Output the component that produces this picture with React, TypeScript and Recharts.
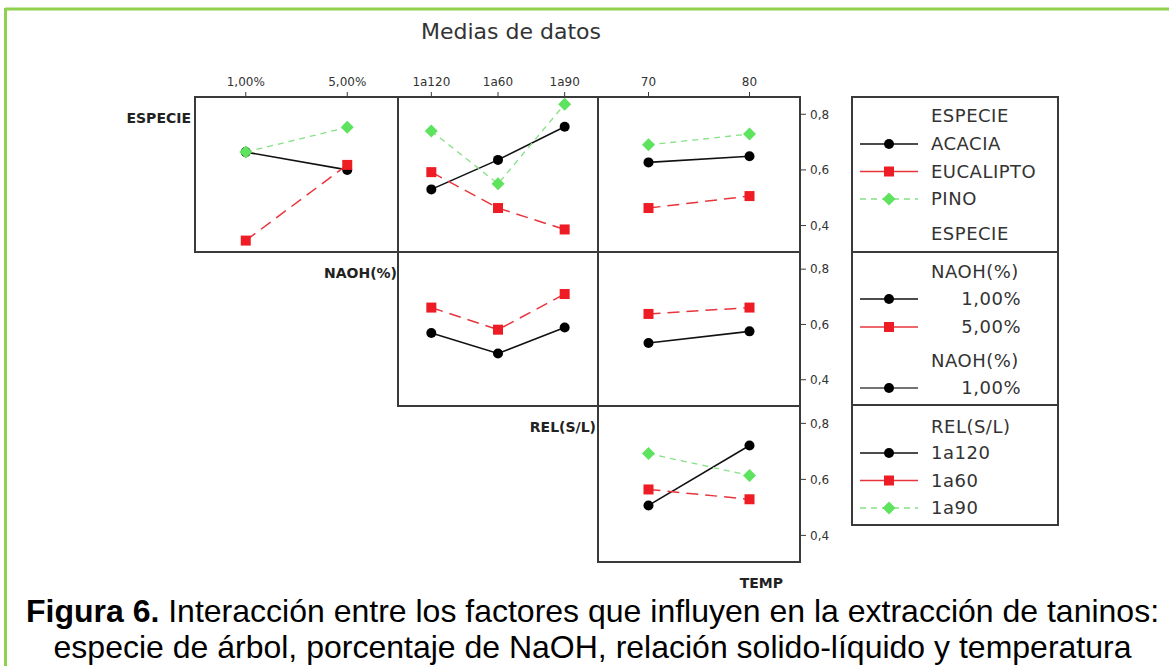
import React from 'react';
import { LineChart, Line, XAxis, YAxis } from 'recharts';

// factor levels
const naohLevels = ['1,00%', '5,00%'];
const relLevels = ['1a120', '1a60', '1a90'];
const tempLevels = ['70', '80'];
const especieNames = ['ACACIA', 'EUCALIPTO', 'PINO'];

// means (rows = levels of the trace factor, in level order)
const especieByNaoh = [[0.664, 0.600], [0.346, 0.618], [0.664, 0.753]];
const especieByRel = [[0.530, 0.636, 0.755], [0.592, 0.463, 0.386], [0.740, 0.550, 0.836]];
const especieByTemp = [[0.627, 0.649], [0.463, 0.506], [0.690, 0.729]];
const naohByRel = [[0.569, 0.495, 0.589], [0.661, 0.581, 0.710]];
const naohByTemp = [[0.533, 0.575], [0.638, 0.661]];
const relByTemp = [[0.507, 0.721], [0.564, 0.529], [0.692, 0.614]];

const yTicks = [0.4, 0.6, 0.8];
const Y_DOMAIN: [number, number] = [0.305, 0.862];

const COLS = [{ x: 195, w: 203 }, { x: 398, w: 200 }, { x: 598, w: 202 }];
const ROWS = [{ y: 97, h: 155 }, { y: 252, h: 154 }, { y: 406, h: 156 }];

const STYLES = [
  { line: '#111111', mark: '#000000', dash: undefined as string | undefined, shape: 'circle', width: 1.6 },
  { line: '#e8343c', mark: '#ee1c24', dash: '12 7', shape: 'square', width: 1.5 },
  { line: '#86e086', mark: '#5ee35e', dash: '6 5', shape: 'diamond', width: 1.3 },
];

const FRAME = '#3a3a3a';
const TEXT = '#333333';
const CHART_FONT = '"DejaVu Sans", Verdana, sans-serif';

function marker(shape: string, color: string, cx: number, cy: number, key?: any) {
  if (shape === 'circle') return <circle key={key} cx={cx} cy={cy} r={5} fill={color} />;
  if (shape === 'square') return <rect key={key} x={cx - 5} y={cy - 5} width={10} height={10} fill={color} />;
  return (
    <polygon
      key={key}
      points={`${cx},${cy - 6.5} ${cx + 6.5},${cy} ${cx},${cy + 6.5} ${cx - 6.5},${cy}`}
      fill={color}
    />
  );
}

const makeDot = (shape: string, color: string) => (p: any) => {
  const { cx, cy, index } = p;
  if (cx == null || cy == null) return <g key={index} />;
  return marker(shape, color, cx, cy, index);
};

interface PanelProps {
  row: number;
  col: number;
  levels: string[];
  series: number[][];
  showTop?: boolean;
  showRight?: boolean;
}

function Panel({ row, col, levels, series, showTop, showRight }: PanelProps) {
  const data = levels.map((_, i) => {
    const d: any = { x: i };
    series.forEach((s, k) => (d['s' + k] = s[i]));
    return d;
  });
  const topH = showTop ? 30 : 0;
  const rightW = showRight ? 50 : 0;

  return (
    <div style={{ position: 'absolute', left: COLS[col].x, top: ROWS[row].y - topH }}>
      <LineChart
        width={COLS[col].w + rightW}
        height={ROWS[row].h + topH}
        data={data}
        margin={{ top: 0, right: 0, bottom: 0, left: 0 }}
      >
        <XAxis
          type="number"
          dataKey="x"
          orientation="top"
          domain={[-0.5, levels.length - 0.5]}
          ticks={levels.map((_, i) => i)}
          interval={0}
          tickFormatter={(v: number) => levels[v]}
          hide={!showTop}
          height={topH}
          axisLine={false}
          tickSize={5}
          tickMargin={6}
          tickLine={{ stroke: FRAME }}
          tick={{ fill: TEXT, fontSize: 12, fontFamily: CHART_FONT }}
        />
        <YAxis
          type="number"
          orientation="right"
          domain={Y_DOMAIN}
          ticks={yTicks}
          interval={0}
          tickFormatter={(v: number) => String(v).replace('.', ',')}
          hide={!showRight}
          width={rightW}
          axisLine={false}
          tickSize={6}
          tickMargin={4}
          tickLine={{ stroke: FRAME }}
          tick={{ fill: TEXT, fontSize: 12, fontFamily: CHART_FONT }}
        />
        {series.map((_, k) => {
          const st = STYLES[k];
          return (
            <Line
              key={k}
              dataKey={'s' + k}
              stroke={st.line}
              strokeWidth={st.width}
              strokeDasharray={st.dash}
              dot={makeDot(st.shape, st.mark)}
              activeDot={false}
              isAnimationActive={false}
            />
          );
        })}
      </LineChart>
    </div>
  );
}

function LegendRow({ y, styleIdx, label, right, color }: { y: number; styleIdx?: number; label: string; right?: boolean; color?: string }) {
  const st = styleIdx != null ? STYLES[styleIdx] : null;
  return (
    <g>
      {st && (
        <>
          <line x1={860} x2={918} y1={y} y2={y} stroke={color || st.line} strokeWidth={1.5} strokeDasharray={st.shape === 'diamond' ? '6 5' : undefined} />
          {marker(st.shape, st.mark, 889, y)}
        </>
      )}
      <text
        x={right ? 1021 : 931}
        y={y + 6}
        textAnchor={right ? 'end' : 'start'}
        fontSize={18}
        letterSpacing={0.5}
        fontFamily={CHART_FONT}
        fill={TEXT}
      >
        {label}
      </text>
    </g>
  );
}

export default function App() {
  return (
    <div style={{ position: 'absolute', left: 0, top: 0, width: 1169, height: 666, background: '#fff', overflow: 'hidden' }}>
      <Panel row={0} col={0} levels={naohLevels} series={especieByNaoh} showTop />
      <Panel row={0} col={1} levels={relLevels} series={especieByRel} showTop />
      <Panel row={0} col={2} levels={tempLevels} series={especieByTemp} showTop showRight />
      <Panel row={1} col={1} levels={relLevels} series={naohByRel} />
      <Panel row={1} col={2} levels={tempLevels} series={naohByTemp} showRight />
      <Panel row={2} col={2} levels={tempLevels} series={relByTemp} showRight />

      <svg width={1169} height={666} style={{ position: 'absolute', left: 0, top: 0, pointerEvents: 'none' }}>
        {/* page frame */}
        <line x1={5} x2={1169} y1={9} y2={9} stroke="#8fd14f" strokeWidth={3} />
        <line x1={5.5} x2={5.5} y1={8} y2={666} stroke="#8fd14f" strokeWidth={3} />

        <text x={511} y={39} textAnchor="middle" fontSize={22} fontFamily={CHART_FONT} fill={TEXT}>
          Medias de datos
        </text>

        {/* panel frames */}
        <g fill="none" stroke={FRAME} strokeWidth={2}>
          <rect x={195} y={97} width={203} height={155} />
          <rect x={398} y={97} width={200} height={155} />
          <rect x={598} y={97} width={202} height={155} />
          <rect x={398} y={252} width={200} height={154} />
          <rect x={598} y={252} width={202} height={154} />
          <rect x={598} y={406} width={202} height={156} />
          <rect x={852} y={97} width={206} height={428} />
          <line x1={852} x2={1058} y1={252} y2={252} />
          <line x1={852} x2={1058} y1={405} y2={405} />
        </g>

        {/* factor names on the diagonal */}
        <g fontSize={14} fontWeight="bold" fontFamily={CHART_FONT} fill="#222" textAnchor="end">
          <text x={191} y={123}>ESPECIE</text>
          <text x={397} y={278}>NAOH(%)</text>
          <text x={596} y={432}>REL(S/L)</text>
          <text x={783} y={588}>TEMP</text>
        </g>

        {/* legends */}
        <LegendRow y={116} label="ESPECIE" />
        {especieNames.map((n, i) => (
          <LegendRow key={n} y={144 + i * 27.5} styleIdx={i} label={n} />
        ))}
        <LegendRow y={234} label="ESPECIE" />

        <LegendRow y={272} label="NAOH(%)" />
        {naohLevels.map((n, i) => (
          <LegendRow key={n} y={299 + i * 28} styleIdx={i} label={n} right />
        ))}
        <LegendRow y={361} label="NAOH(%)" />
        <LegendRow y={388} styleIdx={0} label={naohLevels[0]} right color="#444" />

        <LegendRow y={427} label="REL(S/L)" />
        {relLevels.map((n, i) => (
          <LegendRow key={n} y={453 + i * 27.5} styleIdx={i} label={n} />
        ))}
      </svg>

      <div
        style={{
          position: 'absolute',
          left: 8,
          top: 593,
          width: 1169,
          textAlign: 'center',
          fontFamily: '"Liberation Sans", Arial, sans-serif',
          fontSize: 32,
          lineHeight: '36px',
          color: '#000',
          whiteSpace: 'nowrap',
        }}
      >
        <div>
          <b>Figura 6.</b> Interacción entre los factores que influyen en la extracción de taninos:
        </div>
        <div>especie de árbol, porcentaje de NaOH, relación solido-líquido y temperatura</div>
      </div>
    </div>
  );
}
